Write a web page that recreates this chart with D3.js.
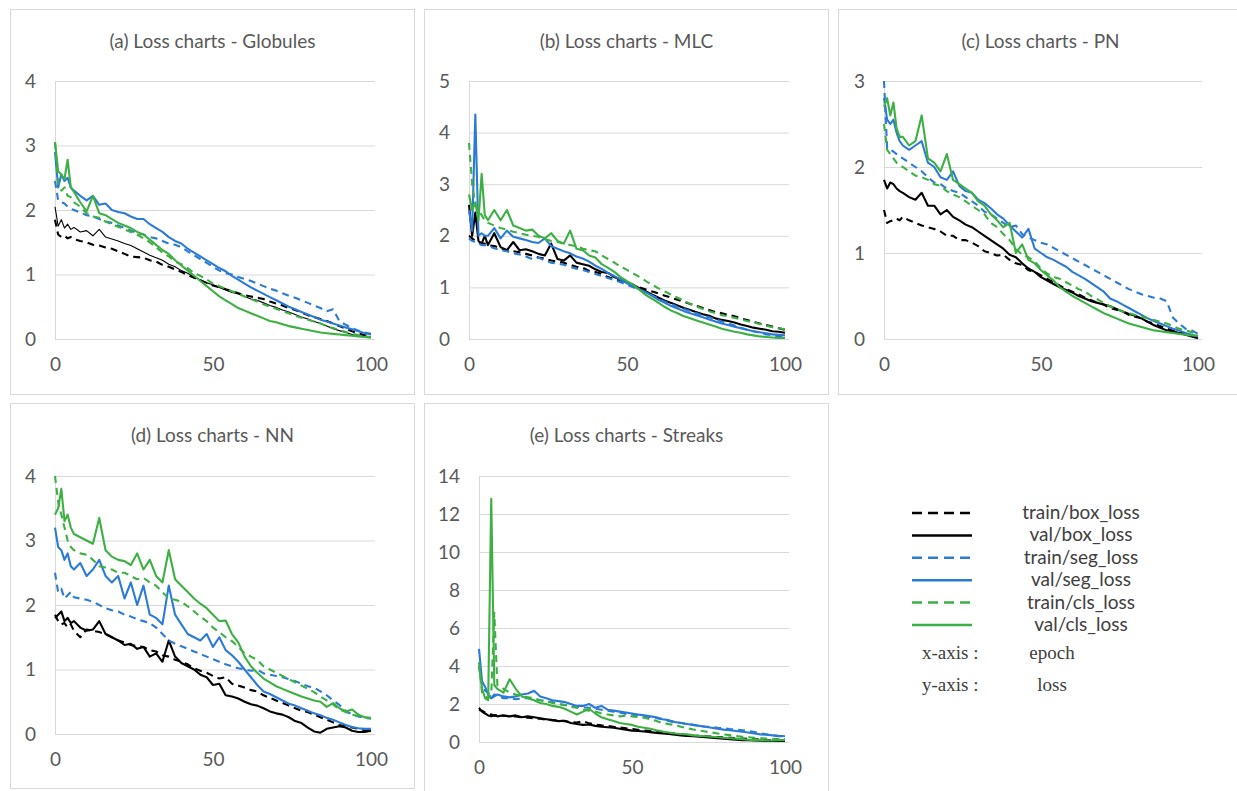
<!DOCTYPE html>
<html>
<head>
<meta charset="utf-8">
<script src="https://cdn.jsdelivr.net/npm/d3@7"></script>
<style>
  html, body { margin: 0; padding: 0; background: #fff; }
  svg { display: block; font-family: Lato, "Open Sans", sans-serif; }
</style>
</head>
<body>
<div id="chart"></div>
<script>
// epochs sampled: every epoch at the start, then every second one
const epochs = [0, 1, 2, 3, 4, 5, 6,
  8, 10, 12, 14, 16, 18, 20, 22, 24, 26,
  28, 30, 32, 34, 36, 38, 40, 42, 44, 46,
  48, 50, 52, 54, 56, 58, 60, 62, 64, 66,
  68, 70, 72, 74, 76, 78, 80, 82, 84, 86,
  88, 90, 92, 94, 96, 98, 100];

const seriesNames = ['train/box_loss', 'val/box_loss', 'train/seg_loss', 'val/seg_loss', 'train/cls_loss', 'val/cls_loss'];
const seriesColors = ['#000000', '#000000', '#2b7bd6', '#2b7bd6', '#3cb043', '#3cb043'];
const seriesDashed = [true, false, true, false, true, false];

const panelTitles = [
  '(a) Loss charts - Globules',
  '(b) Loss charts - MLC',
  '(c) Loss charts - PN',
  '(d) Loss charts - NN',
  '(e) Loss charts - Streaks',
];
const xTicks = [0, 50, 100];
const yTicksGlobules = [0, 1, 2, 3, 4];
const yTicksMLC = [0, 1, 2, 3, 4, 5];
const yTicksPN = [0, 1, 2, 3];
const yTicksNN = [0, 1, 2, 3, 4];
const yTicksStreaks = [0, 2, 4, 6, 8, 10, 12, 14];

// (a) Globules
const globulesTrainBox = [1.85, 1.62, 1.58, 1.60, 1.56, 1.58, 1.55,
  1.52, 1.50, 1.46, 1.45, 1.42, 1.40, 1.36, 1.32, 1.28, 1.27,
  1.26, 1.22, 1.20, 1.15, 1.12, 1.08, 1.04, 0.99, 0.95, 0.91,
  0.87, 0.83, 0.80, 0.77, 0.74, 0.71, 0.68, 0.66, 0.64, 0.62,
  0.58, 0.55, 0.52, 0.48, 0.45, 0.41, 0.37, 0.34, 0.31, 0.28,
  0.24, 0.20, 0.16, 0.12, 0.09, 0.06, 0.04];
const globulesValBox = [2.05, 1.75, 1.85, 1.72, 1.78, 1.70, 1.73,
  1.66, 1.68, 1.60, 1.70, 1.58, 1.55, 1.52, 1.48, 1.45, 1.40,
  1.35, 1.30, 1.26, 1.22, 1.16, 1.12, 1.06, 1.02, 0.96, 0.92,
  0.87, 0.84, 0.80, 0.76, 0.72, 0.70, 0.66, 0.62, 0.60, 0.56,
  0.52, 0.49, 0.45, 0.42, 0.38, 0.34, 0.31, 0.27, 0.24, 0.20,
  0.16, 0.13, 0.10, 0.07, 0.05, 0.04, 0.02];
const globulesTrainSeg = [2.45, 2.15, 2.12, 2.10, 2.05, 2.02, 2.00,
  1.96, 1.92, 1.90, 1.86, 1.82, 1.80, 1.76, 1.72, 1.68, 1.64,
  1.62, 1.58, 1.56, 1.52, 1.48, 1.46, 1.42, 1.36, 1.30, 1.24,
  1.18, 1.12, 1.06, 1.02, 1.00, 0.96, 0.93, 0.90, 0.86, 0.82,
  0.78, 0.75, 0.71, 0.67, 0.64, 0.60, 0.56, 0.52, 0.48, 0.43,
  0.46, 0.28, 0.22, 0.17, 0.13, 0.10, 0.08];
const globulesValSeg = [2.90, 2.35, 2.55, 2.45, 2.50, 2.35, 2.30,
  2.22, 2.15, 2.22, 2.08, 2.10, 2.00, 1.97, 1.95, 1.90, 1.86,
  1.86, 1.78, 1.72, 1.66, 1.58, 1.52, 1.48, 1.40, 1.34, 1.28,
  1.22, 1.16, 1.10, 1.05, 0.98, 0.92, 0.86, 0.80, 0.75, 0.70,
  0.65, 0.60, 0.55, 0.50, 0.46, 0.42, 0.38, 0.34, 0.30, 0.27,
  0.24, 0.21, 0.18, 0.15, 0.12, 0.09, 0.07];
const globulesTrainCls = [3.05, 2.40, 2.30, 2.35, 2.22, 2.20, 2.12,
  2.05, 1.95, 1.90, 1.88, 1.82, 1.78, 1.74, 1.70, 1.66, 1.62,
  1.56, 1.50, 1.42, 1.34, 1.28, 1.20, 1.16, 1.10, 1.02, 0.98,
  0.92, 0.86, 0.82, 0.78, 0.74, 0.70, 0.66, 0.62, 0.58, 0.54,
  0.50, 0.47, 0.43, 0.40, 0.36, 0.33, 0.30, 0.27, 0.24, 0.20,
  0.17, 0.14, 0.11, 0.08, 0.06, 0.04, 0.03];
const globulesValCls = [3.05, 2.60, 2.55, 2.48, 2.78, 2.35, 2.28,
  2.12, 1.98, 2.22, 1.95, 1.92, 1.86, 1.80, 1.76, 1.72, 1.66,
  1.62, 1.54, 1.46, 1.38, 1.32, 1.22, 1.14, 1.06, 0.98, 0.90,
  0.82, 0.74, 0.66, 0.60, 0.54, 0.48, 0.44, 0.40, 0.36, 0.32,
  0.28, 0.26, 0.23, 0.20, 0.18, 0.16, 0.14, 0.12, 0.10, 0.09,
  0.08, 0.07, 0.06, 0.05, 0.04, 0.03, 0.02];

// (b) MLC
const mlcTrainBox = [2.00, 1.95, 1.90, 1.88, 1.85, 1.85, 1.82,
  1.80, 1.76, 1.72, 1.70, 1.68, 1.65, 1.62, 1.58, 1.56, 1.52,
  1.50, 1.48, 1.44, 1.40, 1.38, 1.32, 1.30, 1.26, 1.20, 1.16,
  1.12, 1.08, 1.04, 1.00, 0.96, 0.92, 0.88, 0.84, 0.80, 0.76,
  0.72, 0.68, 0.64, 0.60, 0.56, 0.52, 0.50, 0.47, 0.44, 0.40,
  0.37, 0.33, 0.30, 0.27, 0.24, 0.21, 0.18];
const mlcValBox = [2.60, 2.00, 2.45, 1.90, 1.85, 2.00, 1.82,
  2.05, 1.78, 1.72, 1.88, 1.72, 1.74, 1.70, 1.65, 1.62, 1.85,
  1.55, 1.52, 1.62, 1.48, 1.45, 1.42, 1.35, 1.30, 1.28, 1.20,
  1.15, 1.10, 1.05, 0.98, 0.92, 0.86, 0.80, 0.74, 0.70, 0.65,
  0.60, 0.56, 0.52, 0.48, 0.45, 0.40, 0.37, 0.35, 0.32, 0.28,
  0.25, 0.22, 0.20, 0.18, 0.15, 0.14, 0.12];
const mlcTrainSeg = [1.95, 1.90, 1.88, 1.85, 1.82, 1.82, 1.80,
  1.76, 1.72, 1.70, 1.66, 1.64, 1.60, 1.55, 1.58, 1.52, 1.48,
  1.46, 1.44, 1.40, 1.36, 1.34, 1.30, 1.26, 1.22, 1.18, 1.14,
  1.10, 1.05, 1.00, 0.95, 0.90, 0.84, 0.78, 0.72, 0.68, 0.62,
  0.58, 0.54, 0.50, 0.45, 0.42, 0.38, 0.34, 0.30, 0.26, 0.22,
  0.18, 0.15, 0.12, 0.09, 0.07, 0.05, 0.04];
const mlcValSeg = [2.50, 2.10, 4.35, 2.00, 2.05, 2.00, 2.00,
  2.15, 1.95, 2.10, 1.98, 1.95, 1.92, 1.88, 1.86, 1.95, 1.80,
  1.75, 1.70, 1.66, 1.60, 1.56, 1.50, 1.42, 1.36, 1.28, 1.22,
  1.15, 1.08, 1.02, 0.96, 0.90, 0.84, 0.76, 0.70, 0.64, 0.59,
  0.54, 0.50, 0.46, 0.42, 0.38, 0.34, 0.30, 0.27, 0.24, 0.21,
  0.18, 0.15, 0.13, 0.11, 0.09, 0.08, 0.07];
const mlcTrainCls = [3.80, 3.00, 2.60, 2.50, 2.40, 2.30, 2.25,
  2.20, 2.15, 2.12, 2.08, 2.05, 2.02, 2.00, 1.98, 1.94, 1.90,
  1.88, 1.85, 1.82, 1.80, 1.75, 1.72, 1.70, 1.62, 1.55, 1.48,
  1.40, 1.34, 1.27, 1.20, 1.12, 1.05, 0.98, 0.92, 0.86, 0.80,
  0.74, 0.68, 0.63, 0.58, 0.54, 0.50, 0.46, 0.44, 0.41, 0.38,
  0.35, 0.32, 0.29, 0.26, 0.23, 0.21, 0.19];
const mlcValCls = [2.80, 2.50, 2.65, 2.30, 3.20, 2.40, 2.30,
  2.50, 2.30, 2.50, 2.20, 2.15, 2.10, 2.12, 2.00, 1.95, 2.05,
  1.90, 1.85, 2.10, 1.75, 1.72, 1.62, 1.58, 1.45, 1.38, 1.30,
  1.20, 1.12, 1.05, 0.95, 0.85, 0.78, 0.70, 0.62, 0.55, 0.50,
  0.44, 0.40, 0.36, 0.32, 0.28, 0.24, 0.20, 0.17, 0.14, 0.12,
  0.09, 0.07, 0.05, 0.04, 0.03, 0.02, 0.02];

// (c) PN
const pnTrainBox = [1.50, 1.35, 1.37, 1.38, 1.40, 1.38, 1.42,
  1.38, 1.35, 1.32, 1.30, 1.28, 1.25, 1.20, 1.20, 1.15, 1.15,
  1.12, 1.08, 1.02, 1.00, 0.97, 0.98, 0.92, 0.88, 0.86, 0.80,
  0.78, 0.74, 0.70, 0.66, 0.62, 0.58, 0.55, 0.52, 0.48, 0.45,
  0.42, 0.40, 0.36, 0.34, 0.32, 0.28, 0.26, 0.24, 0.20, 0.18,
  0.15, 0.12, 0.10, 0.08, 0.06, 0.04, 0.02];
const pnValBox = [1.85, 1.75, 1.82, 1.80, 1.75, 1.72, 1.70,
  1.65, 1.62, 1.70, 1.55, 1.55, 1.45, 1.50, 1.42, 1.38, 1.33,
  1.30, 1.25, 1.20, 1.15, 1.10, 1.05, 0.98, 0.95, 0.88, 0.82,
  0.78, 0.72, 0.68, 0.64, 0.60, 0.57, 0.54, 0.50, 0.47, 0.44,
  0.42, 0.40, 0.38, 0.35, 0.32, 0.29, 0.27, 0.24, 0.20, 0.16,
  0.13, 0.10, 0.09, 0.07, 0.05, 0.03, 0.01];
const pnTrainSeg = [3.00, 2.22, 2.20, 2.18, 2.15, 2.12, 2.10,
  2.05, 2.00, 1.95, 1.88, 1.82, 1.80, 1.75, 1.72, 1.70, 1.65,
  1.60, 1.55, 1.48, 1.45, 1.40, 1.35, 1.30, 1.32, 1.22, 1.18,
  1.15, 1.12, 1.10, 1.06, 1.02, 0.98, 0.94, 0.90, 0.86, 0.82,
  0.78, 0.74, 0.70, 0.66, 0.62, 0.58, 0.55, 0.52, 0.50, 0.48,
  0.47, 0.44, 0.25, 0.18, 0.12, 0.10, 0.06];
const pnValSeg = [2.80, 2.55, 2.50, 2.55, 2.40, 2.30, 2.25,
  2.20, 2.25, 2.30, 2.05, 2.00, 1.88, 1.85, 1.95, 1.78, 1.72,
  1.70, 1.62, 1.58, 1.52, 1.45, 1.40, 1.32, 1.25, 1.18, 1.28,
  1.05, 1.00, 0.95, 0.92, 0.88, 0.84, 0.78, 0.74, 0.70, 0.65,
  0.60, 0.55, 0.47, 0.44, 0.40, 0.36, 0.32, 0.28, 0.24, 0.21,
  0.18, 0.15, 0.12, 0.10, 0.07, 0.05, 0.03];
const pnTrainCls = [2.50, 2.20, 2.15, 2.10, 2.05, 2.02, 2.00,
  1.95, 1.90, 1.88, 1.85, 1.80, 1.78, 1.72, 1.68, 1.65, 1.60,
  1.55, 1.50, 1.45, 1.35, 1.30, 1.22, 1.15, 1.05, 0.98, 0.95,
  0.90, 0.82, 0.76, 0.72, 0.70, 0.66, 0.62, 0.58, 0.55, 0.50,
  0.46, 0.42, 0.38, 0.35, 0.32, 0.30, 0.28, 0.26, 0.24, 0.22,
  0.20, 0.18, 0.15, 0.12, 0.10, 0.08, 0.06];
const pnValCls = [2.70, 2.80, 2.60, 2.75, 2.45, 2.35, 2.35,
  2.25, 2.30, 2.60, 2.10, 2.05, 1.95, 2.15, 1.85, 1.80, 1.75,
  1.70, 1.60, 1.55, 1.45, 1.38, 1.30, 1.35, 1.00, 1.10, 0.92,
  0.88, 0.80, 0.74, 0.68, 0.60, 0.55, 0.50, 0.46, 0.42, 0.38,
  0.34, 0.30, 0.27, 0.24, 0.21, 0.18, 0.16, 0.14, 0.12, 0.10,
  0.09, 0.08, 0.07, 0.06, 0.05, 0.04, 0.04];

// (d) NN
const nnTrainBox = [1.85, 1.75, 1.70, 1.72, 1.65, 1.70, 1.60,
  1.50, 1.62, 1.60, 1.58, 1.55, 1.50, 1.45, 1.42, 1.38, 1.36,
  1.35, 1.30, 1.28, 1.22, 1.20, 1.15, 1.12, 1.08, 1.02, 0.98,
  0.95, 0.90, 0.86, 0.88, 0.78, 0.75, 0.72, 0.68, 0.66, 0.60,
  0.56, 0.52, 0.48, 0.44, 0.40, 0.36, 0.34, 0.30, 0.26, 0.22,
  0.18, 0.14, 0.12, 0.10, 0.08, 0.06, 0.06];
const nnValBox = [1.80, 1.85, 1.90, 1.75, 1.80, 1.72, 1.75,
  1.65, 1.60, 1.62, 1.75, 1.55, 1.50, 1.45, 1.38, 1.40, 1.32,
  1.35, 1.20, 1.25, 1.12, 1.45, 1.20, 1.10, 1.05, 1.00, 0.92,
  0.88, 0.76, 0.78, 0.60, 0.58, 0.55, 0.50, 0.46, 0.44, 0.40,
  0.35, 0.32, 0.30, 0.26, 0.20, 0.17, 0.10, 0.04, 0.02, 0.08,
  0.10, 0.12, 0.10, 0.05, 0.03, 0.03, 0.05];
const nnTrainSeg = [2.50, 2.20, 2.25, 2.10, 2.15, 2.20, 2.12,
  2.10, 2.08, 2.05, 2.00, 1.95, 1.92, 1.90, 1.85, 1.82, 1.78,
  1.75, 1.72, 1.65, 1.55, 1.45, 1.40, 1.36, 1.32, 1.28, 1.24,
  1.20, 1.16, 1.12, 1.08, 1.05, 1.02, 1.00, 0.98, 1.00, 0.94,
  0.92, 0.90, 0.88, 0.85, 0.82, 0.78, 0.74, 0.72, 0.66, 0.60,
  0.52, 0.45, 0.36, 0.30, 0.27, 0.25, 0.24];
const nnValSeg = [3.20, 2.90, 2.85, 2.70, 2.80, 2.60, 2.55,
  2.65, 2.45, 2.55, 2.70, 2.45, 2.35, 2.45, 2.10, 2.35, 2.00,
  2.30, 1.85, 1.80, 1.70, 2.30, 1.85, 1.70, 1.55, 1.50, 1.45,
  1.55, 1.35, 1.50, 1.30, 1.22, 1.12, 1.00, 0.88, 0.76, 0.66,
  0.62, 0.57, 0.52, 0.47, 0.44, 0.40, 0.36, 0.32, 0.29, 0.25,
  0.22, 0.18, 0.14, 0.11, 0.09, 0.08, 0.08];
const nnTrainCls = [4.00, 3.60, 3.40, 3.20, 3.00, 2.90, 2.85,
  2.80, 2.78, 2.70, 2.60, 2.58, 2.55, 2.50, 2.50, 2.45, 2.40,
  2.42, 2.35, 2.30, 2.20, 2.10, 2.08, 2.05, 1.98, 1.90, 1.82,
  1.75, 1.65, 1.58, 1.50, 1.44, 1.35, 1.25, 1.20, 1.15, 1.05,
  1.00, 0.95, 0.90, 0.85, 0.80, 0.75, 0.70, 0.65, 0.58, 0.52,
  0.46, 0.38, 0.34, 0.30, 0.28, 0.26, 0.24];
const nnValCls = [3.40, 3.50, 3.80, 3.30, 3.40, 3.20, 3.10,
  3.05, 3.00, 2.95, 3.35, 2.85, 2.75, 2.70, 2.68, 2.62, 2.80,
  2.55, 2.70, 2.45, 2.35, 2.85, 2.40, 2.30, 2.20, 2.10, 2.02,
  1.95, 1.85, 1.75, 1.76, 1.55, 1.42, 1.20, 1.05, 0.95, 0.86,
  0.80, 0.74, 0.70, 0.66, 0.62, 0.58, 0.55, 0.52, 0.50, 0.42,
  0.48, 0.40, 0.35, 0.38, 0.30, 0.26, 0.25];

// (e) Streaks
const streaksTrainBox = [1.70, 1.65, 1.55, 1.50, 1.45, 1.40, 1.42,
  1.38, 1.36, 1.34, 1.30, 1.28, 1.25, 1.22, 1.18, 1.15, 1.12,
  1.10, 1.05, 1.02, 1.10, 0.98, 0.92, 0.88, 0.85, 0.80, 0.76,
  0.72, 0.68, 0.64, 0.60, 0.57, 0.54, 0.50, 0.47, 0.44, 0.40,
  0.37, 0.34, 0.32, 0.30, 0.28, 0.26, 0.24, 0.22, 0.20, 0.18,
  0.16, 0.14, 0.12, 0.10, 0.09, 0.08, 0.07];
const streaksValBox = [1.80, 1.60, 1.50, 1.40, 1.35, 1.40, 1.35,
  1.40, 1.35, 1.40, 1.30, 1.35, 1.30, 1.25, 1.20, 1.15, 1.10,
  1.12, 1.00, 0.95, 0.90, 0.92, 0.85, 0.80, 0.78, 0.75, 0.70,
  0.65, 0.60, 0.58, 0.55, 0.52, 0.48, 0.45, 0.42, 0.38, 0.35,
  0.32, 0.30, 0.28, 0.25, 0.22, 0.20, 0.18, 0.15, 0.12, 0.10,
  0.10, 0.08, 0.07, 0.06, 0.05, 0.05, 0.05];
const streaksTrainSeg = [4.00, 3.00, 2.70, 2.60, 2.30, 2.50, 2.45,
  2.30, 2.30, 2.25, 2.30, 2.30, 2.25, 2.20, 2.15, 2.10, 2.00,
  1.95, 1.90, 1.85, 1.82, 1.80, 1.75, 1.70, 1.65, 1.60, 1.55,
  1.48, 1.45, 1.40, 1.35, 1.30, 1.25, 1.20, 1.10, 1.05, 1.00,
  0.95, 0.90, 0.85, 0.80, 0.80, 0.75, 0.72, 0.68, 0.65, 0.62,
  0.58, 0.52, 0.45, 0.40, 0.35, 0.30, 0.28];
const streaksValSeg = [4.90, 3.20, 2.90, 2.50, 2.30, 2.40, 2.50,
  2.40, 2.35, 2.40, 2.50, 2.55, 2.70, 2.40, 2.30, 2.20, 2.15,
  2.10, 2.00, 1.90, 1.90, 2.00, 1.80, 1.90, 1.70, 1.65, 1.60,
  1.55, 1.50, 1.45, 1.40, 1.35, 1.30, 1.20, 1.15, 1.05, 1.00,
  0.95, 0.90, 0.85, 0.80, 0.75, 0.70, 0.65, 0.62, 0.58, 0.54,
  0.50, 0.45, 0.40, 0.38, 0.35, 0.32, 0.30];
const streaksTrainCls = [4.20, 2.60, 2.40, 2.30, 2.50, 6.80, 3.00,
  2.80, 2.60, 2.50, 2.40, 2.35, 2.30, 2.20, 2.15, 2.05, 2.00,
  1.95, 1.85, 1.80, 1.70, 1.65, 1.60, 1.50, 1.45, 1.40, 1.35,
  1.38, 1.35, 1.32, 1.28, 1.20, 1.10, 1.00, 0.94, 0.90, 0.80,
  0.72, 0.66, 0.60, 0.55, 0.50, 0.45, 0.40, 0.36, 0.32, 0.28,
  0.25, 0.22, 0.20, 0.18, 0.16, 0.15, 0.15];
const streaksValCls = [4.00, 2.80, 2.30, 2.20, 12.80, 3.00, 2.80,
  2.60, 3.30, 2.80, 2.40, 2.30, 2.20, 2.05, 2.00, 1.90, 1.85,
  1.75, 1.60, 1.45, 1.60, 1.75, 1.50, 1.30, 1.20, 1.10, 1.00,
  0.95, 0.90, 0.80, 0.75, 0.70, 0.62, 0.55, 0.50, 0.45, 0.42,
  0.40, 0.35, 0.32, 0.30, 0.28, 0.25, 0.22, 0.20, 0.18, 0.15,
  0.12, 0.10, 0.10, 0.08, 0.08, 0.10, 0.10];

const panelSeries = [
  [globulesTrainBox, globulesValBox, globulesTrainSeg, globulesValSeg, globulesTrainCls, globulesValCls],
  [mlcTrainBox, mlcValBox, mlcTrainSeg, mlcValSeg, mlcTrainCls, mlcValCls],
  [pnTrainBox, pnValBox, pnTrainSeg, pnValSeg, pnTrainCls, pnValCls],
  [nnTrainBox, nnValBox, nnTrainSeg, nnValSeg, nnTrainCls, nnValCls],
  [streaksTrainBox, streaksValBox, streaksTrainSeg, streaksValSeg, streaksTrainCls, streaksValCls],
];
const panelYTicks = [yTicksGlobules, yTicksMLC, yTicksPN, yTicksNN, yTicksStreaks];

// where each panel sits on the page
const layout = [
  { box: [10.5, 9.5, 404, 385], plot: [55, 371, 81, 339] },
  { box: [424.5, 9.5, 404, 385], plot: [469, 785, 81, 339] },
  { box: [838.5, 9.5, 404, 385], plot: [884, 1198, 81, 339] },
  { box: [10.5, 403.5, 404, 385], plot: [55, 371, 476, 734] },
  { box: [424.5, 403.5, 404, 400], plot: [479, 785, 476, 742] },
];

const WIDTH = 1237;
const HEIGHT = 791;
const GRID = '#d9d9d9';
const TEXT = '#595959';

const svg = d3.create('svg').attr('width', WIDTH).attr('height', HEIGHT);

const drawPanel = (index) => {
  const [bx, by, bw, bh] = layout[index].box;
  const [left, right, top, bottom] = layout[index].plot;
  const yTicks = panelYTicks[index];

  const g = svg.append('g');

  g.append('rect')
    .attr('x', bx)
    .attr('y', by)
    .attr('width', bw)
    .attr('height', bh)
    .attr('fill', '#fff')
    .attr('stroke', GRID);

  g.append('text')
    .attr('x', bx + bw / 2)
    .attr('y', by + 38)
    .attr('text-anchor', 'middle')
    .attr('fill', TEXT)
    .style('font-size', '19px')
    .text(panelTitles[index]);

  const xScale = d3.scaleLinear().domain([0, 100]).range([left, right]);
  const yScale = d3
    .scaleLinear()
    .domain([0, d3.max(yTicks)])
    .range([bottom, top]);

  const yAxis = g
    .append('g')
    .attr('transform', `translate(${left}, 0)`)
    .call(
      d3
        .axisLeft(yScale)
        .tickValues(yTicks)
        .tickFormat(d3.format('d'))
        .tickSize(-(right - left + 4))
        .tickSizeOuter(0)
        .tickPadding(19)
    );
  yAxis.select('.domain').attr('stroke', GRID);
  yAxis.selectAll('.tick line').attr('stroke', GRID);
  yAxis
    .selectAll('.tick text')
    .attr('fill', TEXT)
    .style('font-size', '19px')
    .style('font-family', 'Lato, sans-serif');

  const xAxis = g
    .append('g')
    .attr('transform', `translate(0, ${bottom})`)
    .call(d3.axisBottom(xScale).tickValues(xTicks).tickSize(0).tickPadding(19));
  xAxis.select('.domain').remove();
  xAxis
    .selectAll('.tick text')
    .attr('fill', TEXT)
    .style('font-size', '19px')
    .style('font-family', 'Lato, sans-serif');

  const line = d3
    .line()
    .x((d) => xScale(d[0]))
    .y((d) => yScale(d[1]));

  panelSeries[index].forEach((values, s) => {
    const thin = index === 0 && s === 1;
    g.append('path')
      .datum(d3.zip(epochs, values))
      .attr('fill', 'none')
      .attr('stroke', seriesColors[s])
      .attr('stroke-width', thin ? 1.1 : 2.1)
      .attr('stroke-dasharray', seriesDashed[s] ? '7,5' : null)
      .attr('stroke-linejoin', 'round')
      .attr('d', line);
  });
};

panelTitles.forEach((_, index) => drawPanel(index));

// legend
const legendRowY = d3.scalePoint().domain(seriesNames).range([513, 625]);
const legend = svg.append('g');
seriesNames.forEach((name, s) => {
  const y = legendRowY(name);
  legend
    .append('line')
    .attr('x1', 912)
    .attr('x2', 972)
    .attr('y1', y)
    .attr('y2', y)
    .attr('stroke', seriesColors[s])
    .attr('stroke-width', 2.5)
    .attr('stroke-dasharray', seriesDashed[s] ? '10,6' : null);
  legend
    .append('text')
    .attr('x', 1081)
    .attr('y', y + 6)
    .attr('text-anchor', 'middle')
    .attr('fill', '#404040')
    .style('font-size', '19px')
    .text(name);
});

const axisNotes = [
  ['x-axis :', 'epoch', 653],
  ['y-axis :', 'loss', 685],
];
axisNotes.forEach(([label, value, y]) => {
  legend
    .append('text')
    .attr('x', 922)
    .attr('y', y + 6)
    .attr('fill', '#404040')
    .style('font-family', '"Liberation Serif", "DejaVu Serif", serif')
    .style('font-size', '19px')
    .text(label);
  legend
    .append('text')
    .attr('x', 1052)
    .attr('y', y + 6)
    .attr('text-anchor', 'middle')
    .attr('fill', '#404040')
    .style('font-family', '"Liberation Serif", "DejaVu Serif", serif')
    .style('font-size', '19px')
    .text(value);
});

document.getElementById('chart').appendChild(svg.node());
</script>
</body>
</html>
